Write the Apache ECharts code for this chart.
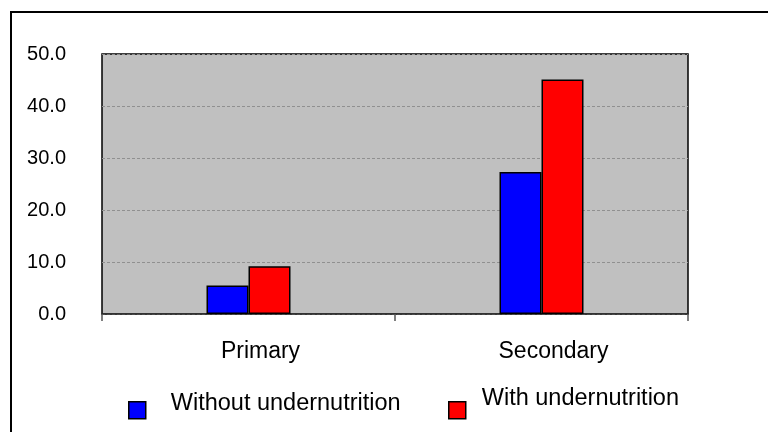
<!DOCTYPE html>
<html>
<head>
<meta charset="utf-8">
<script src="https://cdn.jsdelivr.net/npm/echarts@6/dist/echarts.min.js"></script>
<style>html,body{margin:0;padding:0;background:#fff;}#c{width:768px;height:432px;}</style>
</head>
<body>
<div id="c"></div>
<script>
const categories = ['Primary', 'Secondary'];
const withoutUndernutrition = [5.5, 27.3];
const withUndernutrition = [9.2, 45.1];
const seriesNames = ['Without undernutrition', 'With undernutrition'];
const yTickLabels = ['0.0', '10.0', '20.0', '30.0', '40.0', '50.0'];

const chart = echarts.init(document.getElementById('c'), null, {renderer: 'canvas'});
const font = "'Liberation Sans', Arial, sans-serif";
chart.setOption({
  animation: false,
  backgroundColor: '#fff',
  graphic: [{
    type: 'rect', z: 100, silent: true,
    shape: {x: 11, y: 12, width: 900, height: 600},
    style: {fill: 'none', stroke: '#000', lineWidth: 2}
  }],
  grid: {
    left: 102, right: 80, top: 54, bottom: 118,
    show: true, backgroundColor: '#c0c0c0', borderColor: '#000', borderWidth: 1.5
  },
  legend: [{
    data: [seriesNames[0]], left: 128, top: 387, padding: 0,
    itemWidth: 17, itemHeight: 31, icon: 'path://M0,0 M0,14 L17,14 L17,31 L0,31 Z',
    itemStyle: {borderColor: '#000', borderWidth: 1.5},
    textStyle: {fontFamily: font, fontSize: 23.5, color: '#000', padding: [0, 0, 0, 20]}
  }, {
    data: [seriesNames[1]], left: 448, top: 378, padding: 0,
    itemWidth: 17, itemHeight: 40, icon: 'path://M0,0 M0,23 L17,23 L17,40 L0,40 Z',
    itemStyle: {borderColor: '#000', borderWidth: 1.5},
    textStyle: {fontFamily: font, fontSize: 23.5, color: '#000', padding: [0, 0, 0, 11]}
  }],
  xAxis: {
    type: 'category', data: categories,
    axisLine: {lineStyle: {color: '#333', width: 1.5}},
    axisTick: {show: true, length: 7, lineStyle: {color: '#555', width: 1.5}},
    axisLabel: {fontFamily: font, fontSize: 23, color: '#000', margin: 26, padding: [0, 0, 0, 24]}
  },
  yAxis: {
    type: 'value', min: 0, max: 50, interval: 10,
    axisLine: {show: false}, axisTick: {show: false},
    splitLine: {lineStyle: {color: '#909090', type: [3, 2], width: 1}},
    axisLabel: {
      fontFamily: font, fontSize: 20, color: '#000', margin: 36,
      formatter: v => yTickLabels[Math.round(v / 10)]
    }
  },
  series: [{
    name: seriesNames[0], type: 'bar', data: withoutUndernutrition,
    barWidth: 42, barGap: '0%',
    itemStyle: {color: '#0000ff', borderColor: '#000', borderWidth: 1.5}
  }, {
    name: seriesNames[1], type: 'bar', data: withUndernutrition,
    barWidth: 42, barGap: '0%',
    itemStyle: {color: '#ff0000', borderColor: '#000', borderWidth: 1.5}
  }]
});
</script>
</body>
</html>
